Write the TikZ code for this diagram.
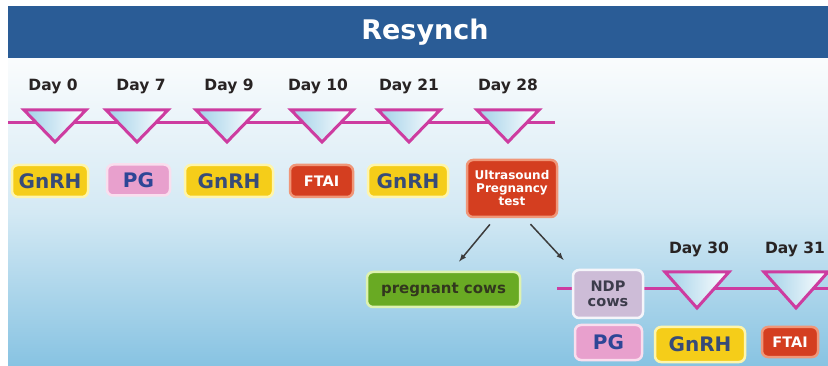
\documentclass[tikz,border=0pt]{standalone}
\usepackage{fontspec}
\setmainfont{DejaVu Sans}
\usetikzlibrary{arrows}

\definecolor{barblue}{RGB}{42,92,150}
\definecolor{linepink}{RGB}{205,60,160}
\definecolor{triblue}{RGB}{160,208,232}
\definecolor{skytop}{RGB}{250,252,253}
\definecolor{skymid}{RGB}{212,233,244}
\definecolor{skybot}{RGB}{135,195,226}
\definecolor{gnrhyellow}{RGB}{245,205,25}
\definecolor{gnrhrim}{RGB}{255,245,170}
\definecolor{pgpink}{RGB}{232,160,205}
\definecolor{pgrim}{RGB}{250,222,238}
\definecolor{ftaired}{RGB}{212,62,32}
\definecolor{ftairim}{RGB}{240,150,120}
\definecolor{preggreen}{RGB}{105,170,35}
\definecolor{pregrim}{RGB}{222,242,175}
\definecolor{ndplilac}{RGB}{205,188,215}
\definecolor{ndprim}{RGB}{245,245,250}
\definecolor{gnrhtext}{RGB}{55,75,120}
\definecolor{pgtext}{RGB}{45,70,150}
\definecolor{daytext}{RGB}{40,35,35}
\definecolor{pregtext}{RGB}{50,55,30}
\definecolor{ndptext}{RGB}{60,60,75}
\definecolor{arrowgray}{RGB}{60,60,60}

\tikzstyle{day}=[anchor=base, font=\bfseries\fontsize{15.5}{17}\selectfont, text=daytext]
\tikzstyle{daytri}=[draw=linepink, line width=3pt, line join=miter, left color=triblue, right color=white]
\tikzstyle{timeline}=[linepink, line width=3pt]
\tikzstyle{treat}=[rounded corners=6pt, line width=2.5pt, inner sep=0pt, align=center, font=\bfseries]
\tikzstyle{gnrh}=[treat, fill=gnrhyellow, draw=gnrhrim, text=gnrhtext, font=\bfseries\fontsize{20}{22}\selectfont]
\tikzstyle{pg}=[treat, fill=pgpink, draw=pgrim, text=pgtext, font=\bfseries\fontsize{20}{22}\selectfont]
\tikzstyle{ftai}=[treat, fill=ftaired, draw=ftairim, text=white, font=\bfseries\fontsize{14.5}{16}\selectfont]
\tikzstyle{arrow}=[arrowgray, line width=1.5pt, -latex]

\begin{document}
\begin{tikzpicture}[x=1pt, y=-1pt]
      \useasboundingbox (0,0) rectangle (828,366);
      \fill[white] (0,0) rectangle (828,366);
      \shade[top color=skytop, bottom color=skybot, middle color=skymid] (8,58) rectangle (828,366);
      \fill[barblue] (8,6) rectangle (828,58);
      \node[text=white, font=\bfseries\fontsize{27}{30}\selectfont] (title) at (425,32) {Resynch};

      % first week schedule
      \node[day] (d0) at (53,91) {Day 0};
      \node[day] (d7) at (141,91) {Day 7};
      \node[day] (d9) at (229,91) {Day 9};
      \node[day] (d10) at (318,91) {Day 10};
      \node[day] (d21) at (409,91) {Day 21};
      \node[day] (d28) at (508,91) {Day 28};

      \coordinate (tl0) at (8,123);
      \coordinate (tl1) at (555,123);
      \draw[timeline] (tl0) -- (tl1);

      \draw[daytri] (24,110) -- (86,110) -- (55,142) -- cycle;
      \draw[daytri] (106,110) -- (168,110) -- (137,142) -- cycle;
      \draw[daytri] (196,110) -- (258,110) -- (227,142) -- cycle;
      \draw[daytri] (291,110) -- (353,110) -- (322,142) -- cycle;
      \draw[daytri] (378,110) -- (440,110) -- (409,142) -- cycle;
      \draw[daytri] (477,110) -- (539,110) -- (508,142) -- cycle;

      \node[gnrh, minimum width=76pt, minimum height=32pt] (g0) at (50,181) {GnRH};
      \node[pg, minimum width=63pt, minimum height=31pt] (pg7) at (138.5,180) {PG};
      \node[gnrh, minimum width=88pt, minimum height=32pt] (g9) at (229,181) {GnRH};
      \node[ftai, minimum width=63pt, minimum height=32pt] (ftai10) at (321.5,181) {FTAI};
      \node[gnrh, minimum width=80pt, minimum height=32pt] (g21) at (408,181) {GnRH};
      \node[ftai, minimum width=90pt, minimum height=57pt, font=\bfseries\fontsize{12}{13}\selectfont] (us) at (512,188.5) {Ultrasound\\Pregnancy\\test};

      % outcome of the scan
      \node[treat, fill=preggreen, draw=pregrim, text=pregtext, minimum width=153pt, minimum height=35pt, font=\bfseries\fontsize{15}{17}\selectfont] (preg) at (443.5,289.5) {pregnant cows};

      \coordinate (tl2) at (557,289);
      \coordinate (tl3) at (828,289);
      \draw[timeline] (tl2) -- (tl3);

      \node[treat, fill=ndplilac, draw=ndprim, text=ndptext, minimum width=70pt, minimum height=48pt, font=\bfseries\fontsize{14.5}{15.5}\selectfont] (ndp) at (608,294) {NDP\\cows};

      \draw[arrow, shorten <=8pt, shorten >=12pt] ([xshift=-17pt]us.south) -- ([xshift=8pt]preg.north);
      \draw[arrow, shorten <=8pt, shorten >=12pt] ([xshift=13pt]us.south) -- (ndp.north west);

      % resynch of open cows
      \node[day] (d30) at (699,254) {Day 30};
      \node[day] (d31) at (795,254) {Day 31};

      \draw[daytri] (665,272) -- (729,272) -- (697,308) -- cycle;
      \draw[daytri] (764,272) -- (828,272) -- (796,308) -- cycle;

      \node[pg, minimum width=67pt, minimum height=35pt] (pg28) at (608.5,342.5) {PG};
      \node[gnrh, minimum width=90pt, minimum height=35pt] (g30) at (700,344.5) {GnRH};
      \node[ftai, minimum width=56pt, minimum height=30pt] (ftai31) at (790,342) {FTAI};
    \end{tikzpicture}
\end{document}
